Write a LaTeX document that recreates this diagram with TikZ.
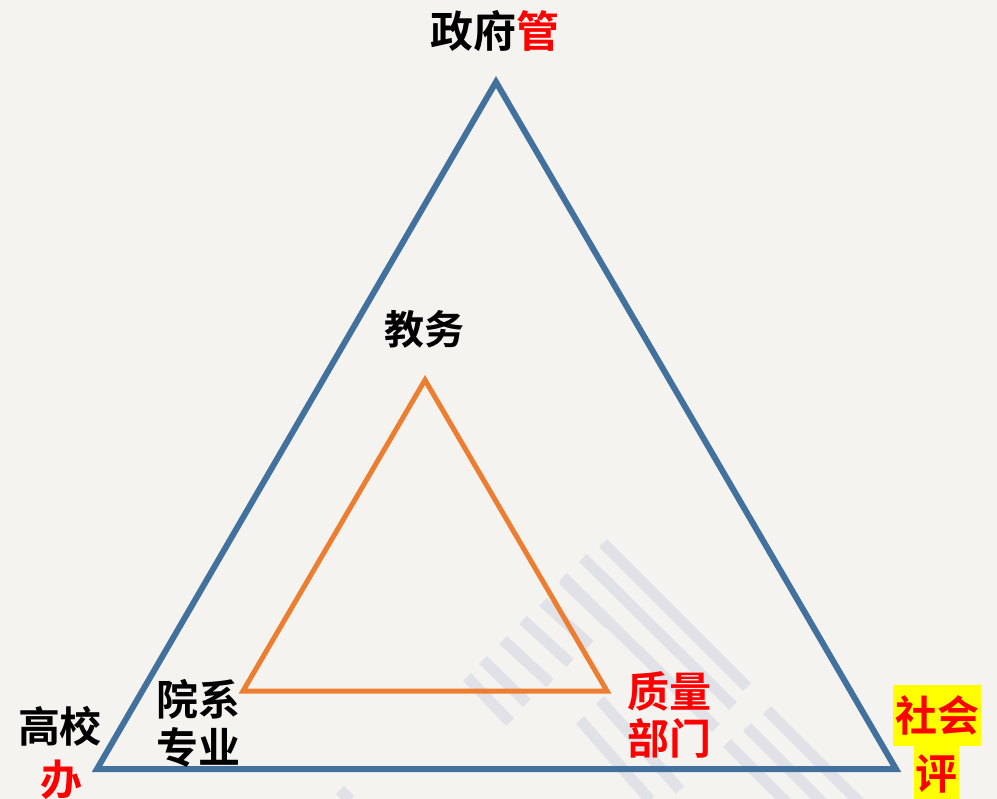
\documentclass[tikz,border=0pt]{standalone}
\usepackage{fontspec}
\newfontfamily\cjk{Noto Sans CJK SC Bold}
\definecolor{bg}{HTML}{F5F3F0}
\definecolor{bluel}{HTML}{41719C}
\definecolor{orangel}{HTML}{ED7D31}
\definecolor{wm}{HTML}{E1E2E7}
\definecolor{redt}{HTML}{FF0000}
\definecolor{yel}{HTML}{FFFF00}
\tikzset{
  lbl/.style={inner sep=0pt, text height=33pt, text depth=2pt, font=\cjk\fontsize{42}{48}\selectfont},
  redlbl/.style={lbl, text=redt},
  bar/.style={wm, line width=11pt, line cap=butt},
  outer/.style={bluel, line width=6pt, line join=miter},
  inner/.style={orangel, line width=5pt, line join=miter},
}
\begin{document}
\begin{tikzpicture}[x=1pt,y=-1pt]
\fill[bg] (0,0) rectangle (997,799);
\useasboundingbox (0,0) rectangle (997,799);
% watermark bars
\foreach \a/\b/\c/\d in {
  603/543/747/687, 583/558/733/706, 563/577/716/728,
  563/580/610/625, 543/602/590/645, 523/620/570/663, 503/640/550/683, 483/660/527/703, 467/677/510/722,
  767/710/867/810, 747/727/833/813, 727/743/790/806,
  600/700/680/790, 580/720/650/800, 340/790/350/800}
  {\draw[bar] (\a,\b) -- (\c,\d);}
% outer triangle
\coordinate (top) at (496,82);
\coordinate (bl) at (97,769);
\coordinate (br) at (896,769);
\draw[outer] (top) -- (br) -- (bl) -- cycle;
% inner triangle
\coordinate (itop) at (425,380);
\coordinate (ibl) at (243,691);
\coordinate (ibr) at (607,691);
\draw[inner] (itop) -- (ibr) -- (ibl) -- cycle;
% labels
\node[lbl, font=\cjk\fontsize{43}{48}\selectfont] (gov) at (495,32) {政府\textcolor{redt}{管}};
\node[lbl, font=\cjk\fontsize{40}{48}\selectfont] (jw) at (424,329) {教务};
\node[lbl] (yx1) at (198,700) {院系};
\node[lbl] (yx2) at (198,748) {专业};
\node[lbl] (gx) at (60,727) {高校};
\node[redlbl] (ban) at (61,780) {办};
\node[redlbl] (zl) at (669,692) {质量};
\node[redlbl] (bm) at (669,739) {部门};
\node[redlbl, fill=yel, minimum width=88pt, minimum height=61pt] (sh) at (937,715.5) {社会};
\node[redlbl, fill=yel, minimum width=45pt, minimum height=56pt] (py) at (936,774) {评};
\end{tikzpicture}
\end{document}
